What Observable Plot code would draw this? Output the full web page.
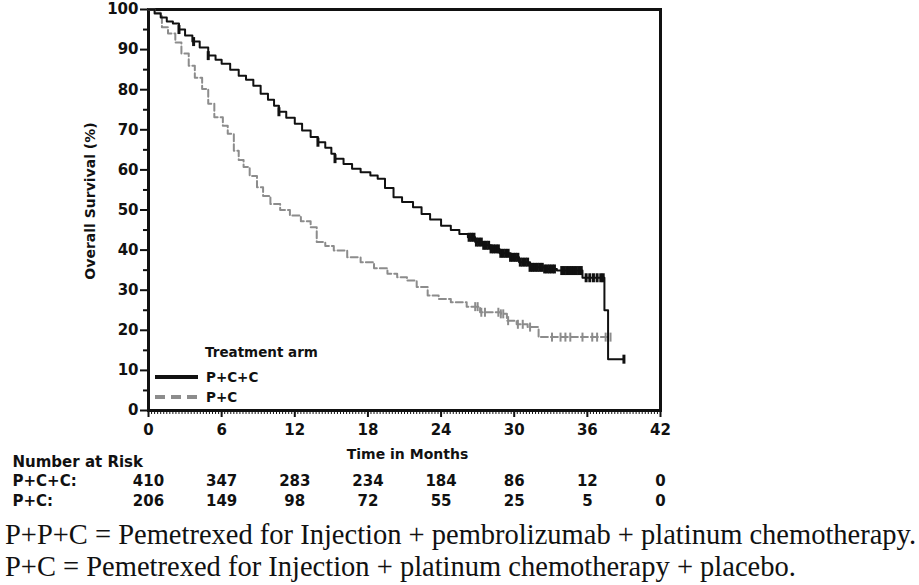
<!DOCTYPE html>
<html>
<head>
<meta charset="utf-8">
<script src="https://cdn.jsdelivr.net/npm/d3@7"></script>
<script src="https://cdn.jsdelivr.net/npm/@observablehq/plot@0.6"></script>
<style>
  body { margin: 0; background: #fff; }
  #wrap { position: relative; width: 919px; height: 585px; }
  .legend { position: absolute; font-family: "DejaVu Sans", Arial, sans-serif; font-weight: bold; font-size: 13.5px; color: #111; }
  .caption { font-family: "Liberation Serif", "Times New Roman", serif; font-size: 28.5px; color: #111; line-height: 32px; padding-left: 5px; white-space: nowrap; margin-top: 7px; }
</style>
</head>
<body>
<div id="wrap">
  <div id="chart"></div>
  <div class="legend" style="left:155px; top:344px;">
    <div style="padding-left:50px; height:22px;">Treatment arm</div>
    <div style="height:21px; display:flex; align-items:center;">
      <svg width="51" height="8"><line x1="0" x2="43" y1="4" y2="4" stroke="#111" stroke-width="4"/></svg>
      <span>P+C+C</span></div>
    <div style="height:20px; display:flex; align-items:center;">
      <svg width="51" height="8"><line x1="0" x2="43" y1="4" y2="4" stroke="#8c8c8c" stroke-width="4" stroke-dasharray="10,6"/></svg>
      <span>P+C</span></div>
  </div>
  <div class="caption">
    <div>P+P+C = Pemetrexed for Injection + pembrolizumab + platinum chemotherapy.</div>
    <div>P+C = Pemetrexed for Injection + platinum chemotherapy + placebo.</div>
  </div>
</div>
<script>
// Kaplan-Meier curve for P+C+C (months, survival %)
const pccTime = [0,0.5,1.0,1.5,2.0,2.5,3.0,3.6,4.2,4.9,5.5,6.0,6.7,7.4,8.0,8.6,9.2,9.8,10.3,10.7,11.3,12.0,12.6,13.3,13.9,14.5,15.0,15.3,16.0,16.7,17.4,18.2,18.8,19.4,20.1,20.8,21.7,22.4,23.1,24.0,24.8,25.5,26.2,26.8,27.4,28.1,28.8,29.7,30.4,31.3,32.5,33.5,35.6,37.4,37.7,39.0];
const pccSurv = [100,99,98,97,96.5,95,93.5,92,90.5,88.5,87.5,86.5,85,83.5,82.5,81,79,77.5,76,74.5,73,71.5,69.8,68.2,66.9,65.5,64,62.8,61.5,60.3,59.4,58.6,57.8,55.5,53.2,52,50.7,49,47.6,46.1,45,44,43.2,42,41.2,40.3,39.2,38.2,37,35.7,35.3,34.9,33.1,25,12.8,12.8];
// Kaplan-Meier curve for P+C
const pcTime = [0,0.5,1.0,1.1,1.6,2.2,2.7,3.3,3.8,4.4,4.9,5.4,6.1,6.5,7.0,7.4,7.8,8.3,8.9,9.4,10.0,10.8,11.6,12.5,13.3,13.8,14.5,15.2,16.3,17.4,18.5,19.6,20.4,21.2,22.0,22.9,23.8,24.8,26.1,27.2,28.9,29.4,30.2,31.1,32.0,37.9];
const pcSurv = [100,99.2,98.5,95.6,94,91.8,89,86,83,80.2,76.5,73.1,71,69,64.8,62.5,60.7,58.5,55.7,53.5,51.5,50,48.6,47.2,45.7,42,41,39.9,38.2,37.0,35.5,34.1,33.2,32.4,30.8,28.7,27.8,27.0,25.9,24.5,24.1,22.4,21.5,20.8,18.3,18.3];
// censoring times
const pccCensor = [2.5,3.7,4.9,10.7,13.9,15.3,26.3,26.5,26.7,26.9,27.1,27.3,27.5,27.7,27.9,28.1,28.3,28.5,28.7,28.9,29.1,29.3,29.5,29.7,29.9,30.1,30.3,30.5,30.7,30.9,31.1,31.3,31.5,31.7,31.9,32.1,32.3,32.5,32.7,32.9,33.1,33.3,33.9,34.1,34.3,34.5,34.7,34.9,35.1,35.3,35.5,35.9,36.2,36.5,36.8,37.1,37.3,39.0];
const pcCensor = [26.8,27.0,27.3,27.6,28.7,28.9,29.1,29.5,30.3,30.7,31.3,33.1,33.8,34.2,34.6,35.6,36.4,36.8,37.5,37.9];
// number at risk
const riskTimes = [0,6,12,18,24,30,36,42];
const riskPCC = [410,347,283,234,184,86,12,0];
const riskPC = [206,149,98,72,55,25,5,0];
const xTicks = [0,6,12,18,24,30,36,42];
const yTicks = [0,10,20,30,40,50,60,70,80,90,100];

const toRows = (t, s) => t.map((d, i) => ({t: d, s: s[i]}));
const survAt = (t, s, x) => { let v = s[0]; for (let i = 0; i < t.length; i++) if (t[i] <= x) v = s[i]; return v; };
const bar = { draw(ctx, size) { const r = Math.sqrt(size / Math.PI); ctx.moveTo(0, -r); ctx.lineTo(0, r); } };
const font = "'DejaVu Sans', Arial, sans-serif";

const chart = Plot.plot({
  width: 919, height: 512,
  marginLeft: 148, marginRight: 259, marginTop: 9, marginBottom: 102,
  style: { fontFamily: font, color: "#111", background: "#fff", overflow: "visible" },
  x: { domain: [0, 42] },
  y: { domain: [0, 100] },
  marks: [
    Plot.axisY({ ticks: yTicks, tickSize: 8, tickPadding: 2, strokeWidth: 2, label: null, fontSize: 15, fontWeight: "bold" }),
    Plot.axisY({ ticks: d3.range(5, 100, 10), tickSize: 5, strokeWidth: 2, tickFormat: () => "", label: null }),
    Plot.axisX({ ticks: xTicks, tickSize: 7, tickPadding: 7, strokeWidth: 2, label: null, fontSize: 15, fontWeight: "bold" }),
    Plot.axisX({ ticks: d3.range(0, 42.001, 0.25), tickSize: 4, strokeWidth: 1, tickFormat: () => "", label: null }),
    Plot.frame({ stroke: "#111", strokeWidth: 3 }),
    Plot.line(toRows(pcTime, pcSurv), { x: "t", y: "s", curve: "step-after", stroke: "#8c8c8c", strokeWidth: 2, strokeDasharray: "7,3" }),
    Plot.line(toRows(pccTime, pccSurv), { x: "t", y: "s", curve: "step-after", stroke: "#111", strokeWidth: 2 }),
    Plot.dot(pcCensor, { x: d => d, y: d => survAt(pcTime, pcSurv, d), symbol: bar, r: 4.5, stroke: "#8c8c8c", strokeWidth: 2, fill: "none" }),
    Plot.dot(pccCensor, { x: d => d, y: d => survAt(pccTime, pccSurv, d), symbol: bar, r: 4.5, stroke: "#111", strokeWidth: 3, fill: "none" }),
    Plot.text(["Overall Survival (%)"], { frameAnchor: "left", textAnchor: "middle", rotate: -90, dx: -58, dy: -9, fontSize: 14, fontWeight: "bold" }),
    Plot.text(["Time in Months"], { frameAnchor: "bottom", dx: 3, dy: 48, fontSize: 14, fontWeight: "bold" }),
    Plot.text(["Number at Risk"], { frameAnchor: "bottom-left", dx: -136, dy: 56, textAnchor: "start", fontSize: 15, fontWeight: "bold" }),
    Plot.text(["P+C+C:"], { frameAnchor: "bottom-left", dx: -136, dy: 75, textAnchor: "start", fontSize: 15, fontWeight: "bold" }),
    Plot.text(["P+C:"], { frameAnchor: "bottom-left", dx: -136, dy: 95, textAnchor: "start", fontSize: 15, fontWeight: "bold" }),
    Plot.text(riskTimes, { x: d => d, text: (d, i) => String(riskPCC[i]), frameAnchor: "bottom", dy: 75, fontSize: 15, fontWeight: "bold" }),
    Plot.text(riskTimes, { x: d => d, text: (d, i) => String(riskPC[i]), frameAnchor: "bottom", dy: 95, fontSize: 15, fontWeight: "bold" })
  ]
});
document.getElementById("chart").append(chart);
</script>
</body>
</html>
